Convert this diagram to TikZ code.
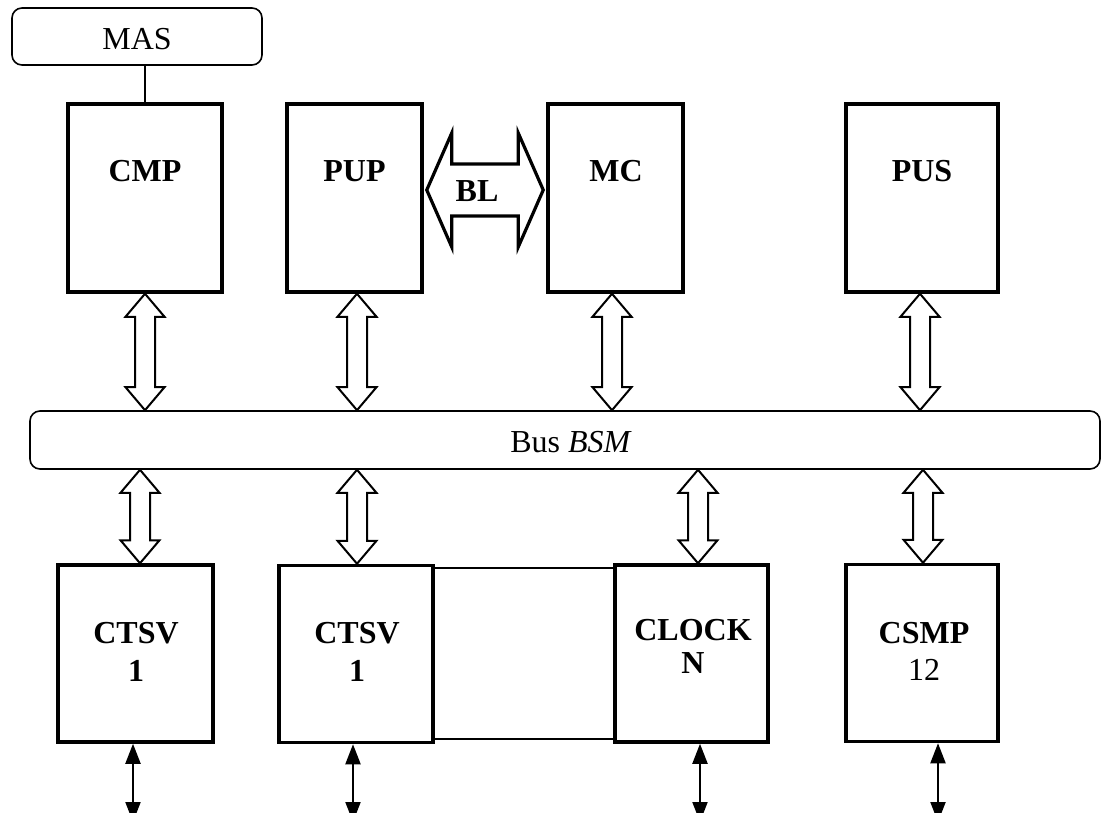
\documentclass[tikz,border=0pt]{standalone}
\usepackage{fontspec}
\setmainfont{Liberation Serif}
\usetikzlibrary{calc,arrows.meta}

% open double arrow between a block and the bus:
% #1 gives the x position, #2 the upper end, #3 the lower end
\newcommand{\fatlink}[3]{%
  \path[fat] let \p1=(#1), \p2=(#2), \p3=(#3) in
    (\x1,\y2) -- (\x1+19.5pt,\y2-23pt) -- (\x1+10pt,\y2-23pt)
    -- (\x1+10pt,\y3+23pt) -- (\x1+19.5pt,\y3+23pt) -- (\x1,\y3)
    -- (\x1-19.5pt,\y3+23pt) -- (\x1-10pt,\y3+23pt)
    -- (\x1-10pt,\y2-23pt) -- (\x1-19.5pt,\y2-23pt) -- cycle;}

\begin{document}
\begin{tikzpicture}[x=1pt,y=-1pt,
  txt/.style={font=\fontsize{32}{38}\selectfont, inner sep=0pt},
  title/.style={font=\fontsize{32}{38}\selectfont\bfseries, inner sep=0pt},
  block/.style={draw, line width=3.5pt, inner sep=0pt},
  soft/.style={draw, line width=1.6pt, rounded corners=10pt, inner sep=0pt},
  fat/.style={draw, line width=2pt, fill=white},
  blfat/.style={draw, line width=3.2pt, fill=white},
  link/.style={line width=1.5pt},
  io/.style={line width=2pt, {Triangle[width=15pt,length=20pt]}-{Triangle[width=15pt,length=20pt]}},
]
\useasboundingbox (0,0) rectangle (1105,813);

% upper row
\node[soft, minimum width=250pt, minimum height=57pt] (mas) at (137,36.5) {};
\node[txt, anchor=base] (masT) at (137,50) {MAS};

\node[block, minimum width=154pt, minimum height=188pt] (cmp) at (145,198) {};
\node[block, minimum width=135pt, minimum height=188pt] (pup) at (354.5,198) {};
\node[block, minimum width=135pt, minimum height=188pt] (mc)  at (615.5,198) {};
\node[block, minimum width=152pt, minimum height=188pt] (pus) at (922,198) {};

\node[title, anchor=base] (cmpT) at (145,182) {CMP};
\node[title, anchor=base] (pupT) at (354.5,182) {PUP};
\node[title, anchor=base] (mcT)  at (616,182) {MC};
\node[title, anchor=base] (pusT) at (922,182) {PUS};

\draw[link] (mas.south -| cmp.north) -- (cmp.north);

% local link between PUP and MC
\path[blfat] let \p1=(pup.east), \p2=(mc.west), \p3=($(pup.center)+(0,-8)$) in
  (\x1+3pt,\y3) -- (\x1+28pt,\y3+57pt) -- (\x1+28pt,\y3+26pt)
  -- (\x2-28pt,\y3+26pt) -- (\x2-28pt,\y3+57pt) -- (\x2-3pt,\y3)
  -- (\x2-28pt,\y3-57pt) -- (\x2-28pt,\y3-26pt)
  -- (\x1+28pt,\y3-26pt) -- (\x1+28pt,\y3-57pt) -- cycle;
\node[title, anchor=base] (blT) at (477,201) {BL};

% system bus
\node[soft, minimum width=1070pt, minimum height=58pt] (bus) at (565,440) {};
\node[txt, anchor=base] (busT) at (571,452) {Bus \textit{BSM}};

% lower row
\node[block, minimum width=155pt, minimum height=177pt] (ctsvA) at (135.5,653.5) {};
\node[block, minimum width=154pt, minimum height=177pt] (ctsvB) at (356,654) {};
\node[block, minimum width=153pt, minimum height=177pt] (clock) at (691.5,653.5) {};
\node[block, minimum width=152pt, minimum height=177pt] (csmp)  at (922,653) {};

% two-line labels, placed by the baseline of their last line
\node[title, anchor=base, align=center] (ctsvAT) at (136,681) {CTSV\\1};
\node[title, anchor=base, align=center] (ctsvBT) at (357,681) {CTSV\\1};
\node[title, anchor=base, align=center, font=\fontsize{32}{33}\selectfont\bfseries] (clockT) at (693,673) {CLOCK\\N};
\node[title, anchor=base, align=center, font=\fontsize{32}{37}\selectfont\bfseries] (csmpT) at (924,680) {CSMP\\\mdseries 12};

% frame lines joining the second CTSV and CLOCK
\coordinate (lt) at ($(ctsvB.north east)+(0,4)$);
\coordinate (lb) at ($(ctsvB.south east)+(0,-5.5)$);
\draw[link] (lt) -- (lt -| clock.west);
\draw[link] (lb) -- (lb -| clock.west);

% bus connections
\fatlink{cmp.south}{cmp.south}{bus.north}
\fatlink{$(pup.south)+(2.5,0)$}{pup.south}{bus.north}
\fatlink{$(mc.south)+(-3.5,0)$}{mc.south}{bus.north}
\fatlink{$(pus.south)+(-2,0)$}{pus.south}{bus.north}
\fatlink{$(ctsvA.north)+(4.5,0)$}{bus.south}{ctsvA.north}
\fatlink{$(ctsvB.north)+(1,0)$}{bus.south}{ctsvB.north}
\fatlink{$(clock.north)+(6.5,0)$}{bus.south}{clock.north}
\fatlink{$(csmp.north)+(1,0)$}{bus.south}{csmp.north}

% external lines
\coordinate (ioA) at (133,822);
\coordinate (ioB) at (353,822);
\coordinate (ioC) at (700,822);
\coordinate (ioD) at (938,822);
\draw[io] (ioA |- ctsvA.south) -- (ioA);
\draw[io] (ioB |- ctsvB.south) -- (ioB);
\draw[io] (ioC |- clock.south) -- (ioC);
\draw[io] (ioD |- csmp.south) -- (ioD);
\end{tikzpicture}
\end{document}
